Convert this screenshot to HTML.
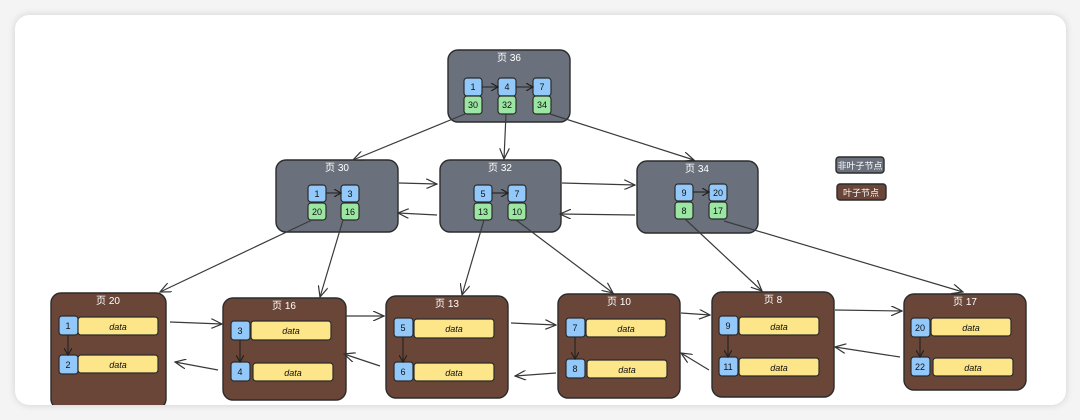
<!DOCTYPE html>
<html><head><meta charset="utf-8"><style>
html,body{margin:0;padding:0;background:#f4f4f4;}
body{width:1080px;height:420px;overflow:hidden;position:relative;}
.card{position:absolute;left:15px;top:15px;width:1051px;height:390px;background:#fff;border-radius:14px;box-shadow:0 0 8px rgba(0,0,0,0.15);overflow:hidden;}
svg{position:absolute;left:0;top:0;}
text{font-family:"Liberation Sans","Noto Sans CJK SC",sans-serif;}
</style></head><body>
<div class="card"></div>
<svg width="1080" height="420" viewBox="0 0 1080 420">
<defs>
<marker id="a" markerWidth="12" markerHeight="10" refX="11" refY="5" orient="auto" markerUnits="userSpaceOnUse">
<path d="M0,0 L11,5 L0,10" fill="none" stroke="#333" stroke-width="1.2"/></marker>
<marker id="s" markerWidth="8" markerHeight="8" refX="7" refY="4" orient="auto" markerUnits="userSpaceOnUse">
<path d="M0,0 L7,4 L0,8" fill="none" stroke="#222" stroke-width="1.2"/></marker>
<clipPath id="c"><rect x="15" y="15" width="1051" height="390" rx="14"/></clipPath>
</defs>
<g clip-path="url(#c)">
<g stroke="#2b2b2b" stroke-width="1.4">
<!-- non-leaf nodes -->
<rect x="448" y="50" width="122" height="72" rx="10" fill="#6b717c"/>
<rect x="276" y="160" width="122" height="72" rx="10" fill="#6b717c"/>
<rect x="440" y="160" width="121" height="72" rx="10" fill="#6b717c"/>
<rect x="637" y="161" width="121" height="72" rx="10" fill="#6b717c"/>
<!-- leaves -->
<rect x="51" y="293" width="115" height="116" rx="10" fill="#6a4638"/>
<rect x="223" y="298" width="123" height="102" rx="10" fill="#6a4638"/>
<rect x="386" y="296" width="122" height="102" rx="10" fill="#6a4638"/>
<rect x="558" y="294" width="122" height="104" rx="10" fill="#6a4638"/>
<rect x="712" y="292" width="122" height="105" rx="10" fill="#6a4638"/>
<rect x="904" y="294" width="122" height="96" rx="10" fill="#6a4638"/>
<!-- legend -->
<rect x="836" y="157" width="48" height="16" rx="3" fill="#6b717c"/>
<rect x="837" y="184" width="49" height="16" rx="3" fill="#6a4638"/>
</g>
<g fill="#fff" font-size="10" text-anchor="middle">
<text x="509" y="61">页 36</text>
<text x="337" y="171">页 30</text>
<text x="500" y="171">页 32</text>
<text x="697" y="172">页 34</text>
<text x="108" y="304">页 20</text>
<text x="284" y="309">页 16</text>
<text x="447" y="307">页 13</text>
<text x="619" y="305">页 10</text>
<text x="773" y="303">页 8</text>
<text x="965" y="305">页 17</text>
<text x="860" y="169" font-size="9">非叶子节点</text>
<text x="861" y="196" font-size="9">叶子节点</text>
</g>
<!-- keys -->
<g stroke="#2b2b2b" stroke-width="1.2">
<g fill="#93c9fa">
<rect x="464" y="78" width="18" height="18" rx="3"/><rect x="498" y="78" width="18" height="18" rx="3"/><rect x="533" y="78" width="18" height="18" rx="3"/>
<rect x="308" y="185" width="18" height="17" rx="3"/><rect x="341" y="185" width="18" height="17" rx="3"/>
<rect x="474" y="185" width="18" height="17" rx="3"/><rect x="508" y="185" width="18" height="17" rx="3"/>
<rect x="675" y="184" width="18" height="17" rx="3"/><rect x="709" y="184" width="18" height="17" rx="3"/>
<rect x="59" y="316" width="19" height="19" rx="3"/><rect x="59" y="355" width="19" height="19" rx="3"/>
<rect x="231" y="321" width="19" height="19" rx="3"/><rect x="231" y="362" width="19" height="19" rx="3"/>
<rect x="394" y="318" width="19" height="19" rx="3"/><rect x="394" y="362" width="19" height="19" rx="3"/>
<rect x="566" y="318" width="19" height="19" rx="3"/><rect x="566" y="359" width="19" height="19" rx="3"/>
<rect x="719" y="316" width="19" height="19" rx="3"/><rect x="719" y="357" width="19" height="19" rx="3"/>
<rect x="911" y="318" width="19" height="19" rx="3"/><rect x="911" y="357" width="19" height="19" rx="3"/>
</g>
<g fill="#9ae6a2">
<rect x="464" y="96" width="18" height="18" rx="3"/><rect x="498" y="96" width="18" height="18" rx="3"/><rect x="533" y="96" width="18" height="18" rx="3"/>
<rect x="308" y="203" width="18" height="17" rx="3"/><rect x="341" y="203" width="18" height="17" rx="3"/>
<rect x="474" y="203" width="18" height="17" rx="3"/><rect x="508" y="203" width="18" height="17" rx="3"/>
<rect x="675" y="202" width="18" height="17" rx="3"/><rect x="709" y="202" width="18" height="17" rx="3"/>
</g>
<g fill="#fde58a">
<rect x="78" y="317" width="80" height="18" rx="3"/><rect x="78" y="355" width="80" height="18" rx="3"/>
<rect x="251" y="321" width="80" height="19" rx="3"/><rect x="253" y="363" width="80" height="18" rx="3"/>
<rect x="414" y="319" width="80" height="19" rx="3"/><rect x="414" y="363" width="80" height="18" rx="3"/>
<rect x="586" y="319" width="80" height="18" rx="3"/><rect x="587" y="360" width="80" height="18" rx="3"/>
<rect x="739" y="317" width="80" height="18" rx="3"/><rect x="739" y="358" width="80" height="18" rx="3"/>
<rect x="931" y="318" width="80" height="18" rx="3"/><rect x="933" y="358" width="80" height="18" rx="3"/>
</g>
</g>
<g fill="#111" font-size="9" text-anchor="middle">
<text x="473" y="90">1</text><text x="507" y="90">4</text><text x="542" y="90">7</text>
<text x="473" y="108">30</text><text x="507" y="108">32</text><text x="542" y="108">34</text>
<text x="317" y="197">1</text><text x="350" y="197">3</text><text x="317" y="215">20</text><text x="350" y="215">16</text>
<text x="483" y="197">5</text><text x="517" y="197">7</text><text x="483" y="215">13</text><text x="517" y="215">10</text>
<text x="684" y="196">9</text><text x="718" y="196">20</text><text x="684" y="214">8</text><text x="718" y="214">17</text>
<text x="68" y="329">1</text><text x="68" y="368">2</text>
<text x="240" y="334">3</text><text x="240" y="375">4</text>
<text x="403" y="331">5</text><text x="403" y="375">6</text>
<text x="575" y="331">7</text><text x="575" y="372">8</text>
<text x="728" y="329">9</text><text x="728" y="370">11</text>
<text x="920" y="331">20</text><text x="920" y="370">22</text>
<g font-style="italic">
<text x="118" y="330">data</text><text x="118" y="368">data</text>
<text x="291" y="334">data</text><text x="293" y="376">data</text>
<text x="454" y="332">data</text><text x="454" y="376">data</text>
<text x="626" y="332">data</text><text x="627" y="373">data</text>
<text x="779" y="330">data</text><text x="779" y="371">data</text>
<text x="971" y="331">data</text><text x="973" y="371">data</text>
</g>
</g>
<!-- small internal arrows -->
<g stroke="#222" stroke-width="1.1" marker-end="url(#s)">
<line x1="482" y1="87" x2="498" y2="87"/><line x1="516" y1="87" x2="533" y2="87"/>
<line x1="326" y1="193" x2="341" y2="193"/><line x1="492" y1="193" x2="508" y2="193"/><line x1="693" y1="192" x2="709" y2="192"/>
<line x1="68" y1="335" x2="68" y2="355"/><line x1="240" y1="340" x2="240" y2="362"/>
<line x1="403" y1="337" x2="403" y2="362"/><line x1="575" y1="337" x2="575" y2="359"/>
<line x1="728" y1="335" x2="728" y2="357"/><line x1="920" y1="337" x2="920" y2="357"/>
</g>
<!-- connectors -->
<g stroke="#3a3a3a" stroke-width="1.2" fill="none" marker-end="url(#a)">
<line x1="465" y1="114" x2="353" y2="160"/>
<line x1="506" y1="114" x2="504" y2="159"/>
<line x1="550" y1="114" x2="694" y2="160"/>
<line x1="312" y1="220" x2="160" y2="292"/>
<line x1="343" y1="220" x2="320" y2="297"/>
<line x1="484" y1="220" x2="462" y2="295"/>
<line x1="516" y1="220" x2="613" y2="293"/>
<line x1="685" y1="219" x2="762" y2="291"/>
<line x1="724" y1="221" x2="963" y2="292"/>
<line x1="399" y1="183" x2="437" y2="184"/>
<line x1="437" y1="215" x2="398" y2="213"/>
<line x1="562" y1="183" x2="635" y2="185"/>
<line x1="635" y1="215" x2="560" y2="214"/>
<line x1="170" y1="322" x2="222" y2="324"/>
<line x1="218" y1="370" x2="175" y2="362"/>
<line x1="346" y1="316" x2="384" y2="316"/>
<line x1="380" y1="366" x2="344" y2="354"/>
<line x1="511" y1="323" x2="556" y2="325"/>
<line x1="556" y1="373" x2="515" y2="376"/>
<line x1="681" y1="313" x2="710" y2="315"/>
<line x1="709" y1="370" x2="681" y2="353"/>
<line x1="835" y1="310" x2="902" y2="311"/>
<line x1="900" y1="357" x2="835" y2="347"/>
</g>
</g>
</svg>
</body></html>
